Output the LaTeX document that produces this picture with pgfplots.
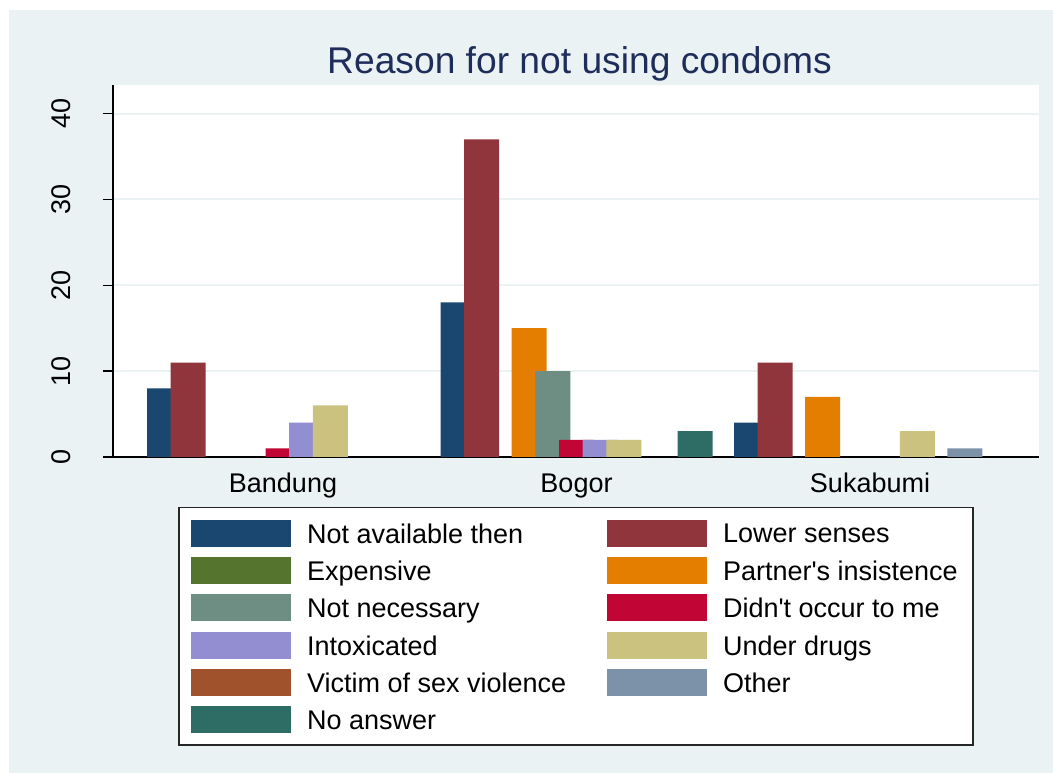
\documentclass[border=0pt]{standalone}
\usepackage{fontspec}
\setmainfont{Liberation Sans}[Ligatures=TeXOff]
\usepackage{pgfplots}
\pgfplotsset{compat=1.18}
\definecolor{bgc}{RGB}{234,242,243}
\definecolor{titlec}{RGB}{30,45,90}
\definecolor{s1}{RGB}{26,71,111}
\definecolor{s2}{RGB}{144,53,59}
\definecolor{s3}{RGB}{85,117,47}
\definecolor{s4}{RGB}{227,126,0}
\definecolor{s5}{RGB}{110,142,132}
\definecolor{s6}{RGB}{193,5,52}
\definecolor{s7}{RGB}{147,141,210}
\definecolor{s8}{RGB}{202,194,126}
\definecolor{s9}{RGB}{160,82,45}
\definecolor{s10}{RGB}{123,146,168}
\definecolor{s11}{RGB}{45,109,102}
\newcommand{\LL}[1]{\hspace*{16bp}\raisebox{-2bp}{\makebox[300bp][l]{#1}}}
\newcommand{\LR}[1]{\hspace*{16bp}\raisebox{-2bp}{\makebox[238bp][l]{#1}}}
\begin{document}
\begin{tikzpicture}
\fill[white] (0,0) rectangle (1053bp,773bp);
\fill[bgc] (9bp,0) rectangle (1053bp,763bp);
\begin{axis}[
  at={(113bp,316bp)}, anchor=south west,
  width=926bp, height=372bp, scale only axis,
  xmin=113, xmax=1039, ymin=0, ymax=43.33,
  axis background/.style={fill=white},
  axis lines*=left,
  axis line style={-, line width=1.5bp, black},
  ytick={0,10,20,30,40}, ytick pos=left,
  tick align=outside, major tick length=10bp,
  y tick style={black, line width=1.5bp},
  ymajorgrids, grid style={bgc, line width=2bp},
  xtick={283,576.5,870}, xticklabels={Bandung,Bogor,Sukabumi},
  x tick style={draw=none},
  ticklabel style={font=\fontsize{27bp}{32bp}\selectfont},
  /pgf/number format/assume math mode=true,
  yticklabel style={rotate=90, anchor=south, inner sep=0pt},
  yticklabel shift=32bp,
  xticklabel style={anchor=base, inner sep=0pt},
  xticklabel shift=25bp,
  title={Reason for not using condoms},
  title style={at={(0.5038,1.0153)}, anchor=base, inner sep=0pt,
    font=\fontsize{37.2bp}{40bp}\selectfont, text=titlec},
  legend columns=2,
  legend style={at={(0.0705,-0.1344)}, anchor=north west,
    draw=black!85, line width=1.5bp, fill=white,
    inner xsep=12bp, inner ysep=12bp,
    row sep=10.3bp, column sep=0bp,
    font=\fontsize{27bp}{32bp}\selectfont,
    cells={anchor=west}, nodes={inner sep=0pt}},
  legend image code/.code={\fill[#1] (0bp,-13.5bp) rectangle (100bp,13.5bp);},
  every axis plot/.append style={ybar, bar width=35bp, bar shift=0bp, draw=none},
]
% group starts: Bandung 164.5, Bogor 458, Sukabumi 751.5; slot spacing 23.7
\addplot[fill=s1] coordinates {(164.5,8) (458,18) (751.5,4)};
\addlegendentry{\LL{Not available then}}
\addplot[fill=s2] coordinates {(188.2,11) (481.7,37) (775.2,11)};
\addlegendentry{\LR{Lower senses}}
\addplot[fill=s3] coordinates {(211.9,0) (505.4,0) (798.9,0)};
\addlegendentry{\LL{Expensive}}
\addplot[fill=s4] coordinates {(235.6,0) (529.1,15) (822.6,7)};
\addlegendentry{\LR{Partner's insistence}}
\addplot[fill=s5] coordinates {(259.3,0) (552.8,10) (846.3,0)};
\addlegendentry{\LL{Not necessary}}
\addplot[fill=s6] coordinates {(283.0,1) (576.5,2) (870.0,0)};
\addlegendentry{\LR{Didn't occur to me}}
\addplot[fill=s7] coordinates {(306.7,4) (600.2,2) (893.7,0)};
\addlegendentry{\LL{Intoxicated}}
\addplot[fill=s8] coordinates {(330.4,6) (623.9,2) (917.4,3)};
\addlegendentry{\LR{Under drugs}}
\addplot[fill=s9] coordinates {(354.1,0) (647.6,0) (941.1,0)};
\addlegendentry{\LL{Victim of sex violence}}
\addplot[fill=s10] coordinates {(377.8,0) (671.3,0) (964.8,1)};
\addlegendentry{\LR{Other}}
\addplot[fill=s11] coordinates {(401.5,0) (695.0,3) (988.5,0)};
\addlegendentry{\LL{No answer}}
\end{axis}
\end{tikzpicture}
\end{document}
